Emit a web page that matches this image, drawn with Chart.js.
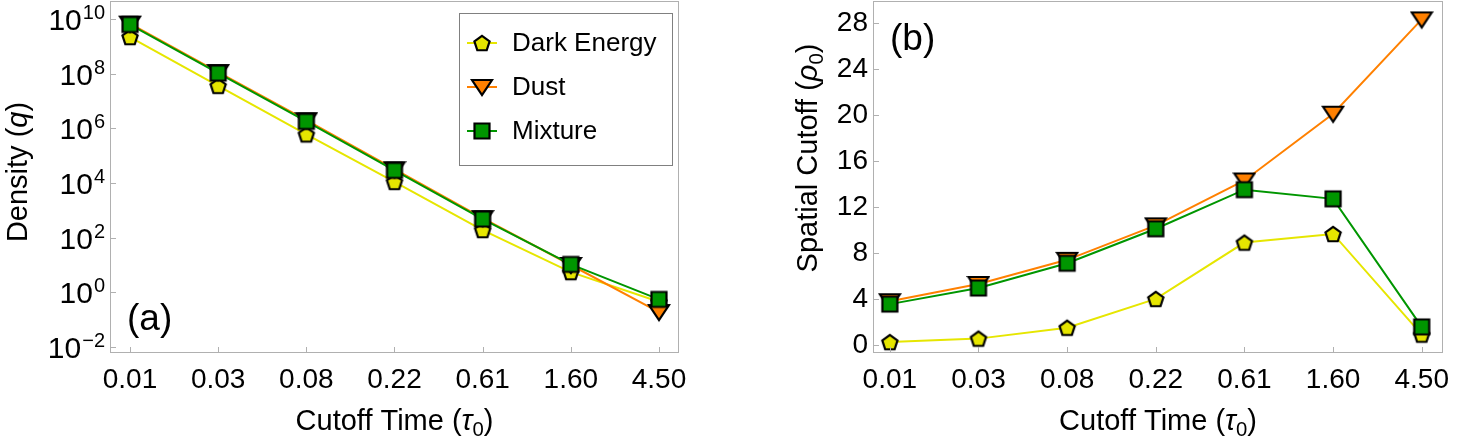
<!DOCTYPE html>
<html lang="en">
<head>
<meta charset="UTF-8">
<title>Density and Spatial Cutoff vs Cutoff Time</title>
<script src="https://cdn.jsdelivr.net/npm/chart.js@4.4.1/dist/chart.umd.min.js"></script>
<style>
body { margin: 0; background: #fff; }
.panel { position: absolute; top: 0; height: 446px; }
#left { left: 0; width: 720px; }
#right { left: 720px; width: 739px; }
</style>
</head>
<body>
<div class="panel" id="left"><canvas id="densityChart"></canvas></div>
<div class="panel" id="right"><canvas id="cutoffChart"></canvas></div>
<script>
// cutoff times (tau_0), evenly spaced on the plot
const times = ['0.01', '0.03', '0.08', '0.22', '0.61', '1.60', '4.50'];
const seriesNames = ['Dark Energy', 'Dust', 'Mixture'];

// panel (a): density q, log scale
const densityDarkEnergy = [2.2e9, 3.6e7, 6.0e5, 1.1e4, 1.9e2, 5.5, 0.45];
const densityDust       = [6.8e9, 1.15e8, 2.0e6, 3.2e4, 5.2e2, 10, 0.19];
const densityMixture    = [6.3e9, 1.05e8, 1.8e6, 2.9e4, 4.8e2, 10.5, 0.55];
const densityExponents  = [-2, 0, 2, 4, 6, 8, 10];

// panel (b): spatial cutoff rho_0
const spatialDarkEnergy = [0.25, 0.55, 1.5, 4.0, 8.9, 9.65, 0.9];
const spatialDust       = [3.8, 5.3, 7.4, 10.4, 14.3, 20.1, 28.3];
const spatialMixture    = [3.55, 4.95, 7.1, 10.1, 13.5, 12.7, 1.57];
const spatialTicks      = [0, 4, 8, 12, 16, 20, 24, 28];

const FONT = "'Liberation Sans', Arial, sans-serif";
const YELLOW = '#e6e600', ORANGE = '#ff8000', GREEN = '#009600';

function marker(kind, fill) {
    const c = document.createElement('canvas');
    c.width = 24; c.height = 24;
    const g = c.getContext('2d');
    g.fillStyle = fill;
    g.strokeStyle = '#000';
    g.lineWidth = 2.2;
    g.beginPath();
    if (kind === 'pentagon') {
        for (let i = 0; i < 5; i++) {
            const a = -Math.PI / 2 + i * 2 * Math.PI / 5;
            const px = 12 + 8 * Math.cos(a), py = 12.8 + 8 * Math.sin(a);
            if (i) g.lineTo(px, py); else g.moveTo(px, py);
        }
    } else if (kind === 'triangle') {
        g.moveTo(2, 5); g.lineTo(22, 5); g.lineTo(12, 20);
    } else {
        g.rect(4.5, 4.5, 15, 15);
    }
    g.closePath();
    g.fill();
    g.stroke();
    return c;
}

const markers = [marker('pentagon', YELLOW), marker('triangle', ORANGE), marker('square', GREEN)];
const lineColors = [YELLOW, ORANGE, GREEN];

function makeDatasets(seriesList) {
    return seriesList.map((vals, k) => ({
        label: seriesNames[k],
        data: vals.map((v, i) => ({ x: i, y: v })),
        borderColor: lineColors[k],
        borderWidth: 2,
        pointStyle: markers[k],
        pointRadius: 8,
        order: 3 - k
    }));
}

// text made of pieces: {t, italic, sub}
function richWidth(ctx, parts, size) {
    let w = 0;
    parts.forEach(p => {
        ctx.font = (p.italic ? 'italic ' : '') + (p.sub ? size * 0.7 : size) + 'px ' + FONT;
        w += ctx.measureText(p.t).width;
    });
    return w;
}
function drawRich(ctx, parts, x, y, size) {
    let cx = x - richWidth(ctx, parts, size) / 2;
    ctx.textAlign = 'left';
    ctx.textBaseline = 'alphabetic';
    ctx.fillStyle = '#000';
    parts.forEach(p => {
        ctx.font = (p.italic ? 'italic ' : '') + (p.sub ? size * 0.7 : size) + 'px ' + FONT;
        ctx.fillText(p.t, cx, y + (p.sub ? size * 0.22 : 0));
        cx += ctx.measureText(p.t).width;
    });
}

function frameAndTicks(chart) {
    const ctx = chart.ctx, a = chart.chartArea;
    const xs = chart.scales.x, ys = chart.scales.y;
    ctx.save();
    ctx.strokeStyle = '#b0b0b0';
    ctx.lineWidth = 1;
    ctx.strokeRect(a.left + 0.5, a.top + 0.5, a.right - a.left - 1, a.bottom - a.top - 1);
    ctx.beginPath();
    xs.ticks.forEach(t => {
        const px = Math.round(xs.getPixelForValue(t.value)) + 0.5;
        ctx.moveTo(px, a.bottom); ctx.lineTo(px, a.bottom - 6);
    });
    ys.ticks.forEach(t => {
        const py = Math.round(ys.getPixelForValue(t.value)) + 0.5;
        ctx.moveTo(a.left, py); ctx.lineTo(a.left + 6, py);
    });
    ctx.stroke();
    ctx.restore();
}

const xTitle = [{ t: 'Cutoff Time (' }, { t: '\u03C4', italic: true }, { t: '0', sub: true }, { t: ')' }];

const densityDecor = {
    id: 'densityDecor',
    afterDraw(chart) {
        const ctx = chart.ctx, a = chart.chartArea, ys = chart.scales.y;
        frameAndTicks(chart);
        ctx.save();
        // log tick labels 10^n
        densityExponents.forEach(e => {
            const py = ys.getPixelForValue(Math.pow(10, e));
            const ex = e < 0 ? '\u2212' + (-e) : String(e);
            ctx.textAlign = 'right';
            ctx.textBaseline = 'alphabetic';
            ctx.fillStyle = '#000';
            ctx.font = '20px ' + FONT;
            const ew = ctx.measureText(ex).width;
            ctx.fillText(ex, 105, py);
            ctx.font = '30px ' + FONT;
            ctx.fillText('10', 104 - ew, py + 11);
        });
        drawRich(ctx, xTitle, (a.left + a.right) / 2, 430, 29);
        ctx.translate(27, 172);
        ctx.rotate(-Math.PI / 2);
        drawRich(ctx, [{ t: 'Density (' }, { t: 'q', italic: true }, { t: ')' }], 0, 0, 29);
        ctx.restore();
        ctx.save();
        ctx.font = '37px ' + FONT;
        ctx.fillStyle = '#000';
        ctx.textAlign = 'left';
        ctx.textBaseline = 'middle';
        ctx.fillText('(a)', 127, 320);
        ctx.restore();
    },
    afterDatasetsDraw(chart) {
        // legend box
        const ctx = chart.ctx;
        ctx.save();
        ctx.fillStyle = '#fff';
        ctx.fillRect(459, 13, 213, 152);
        ctx.strokeStyle = '#808080';
        ctx.lineWidth = 1;
        ctx.strokeRect(459.5, 13.5, 213, 152);
        chart.data.datasets.forEach((ds, k) => {
            const cy = 43 + k * 44;
            ctx.strokeStyle = ds.borderColor;
            ctx.lineWidth = 2;
            ctx.beginPath();
            ctx.moveTo(467, cy); ctx.lineTo(497, cy);
            ctx.stroke();
            ctx.drawImage(ds.pointStyle, 482 - 12, cy - 12);
            ctx.fillStyle = '#000';
            ctx.font = '26px ' + FONT;
            ctx.textAlign = 'left';
            ctx.textBaseline = 'middle';
            ctx.fillText(ds.label, 512, cy + 1);
        });
        ctx.restore();
    }
};

const cutoffDecor = {
    id: 'cutoffDecor',
    afterDraw(chart) {
        const ctx = chart.ctx, a = chart.chartArea;
        frameAndTicks(chart);
        ctx.save();
        drawRich(ctx, xTitle, (a.left + a.right) / 2, 430, 29);
        ctx.translate(97, 158);
        ctx.rotate(-Math.PI / 2);
        drawRich(ctx, [{ t: 'Spatial Cutoff (' }, { t: '\u03C1', italic: true }, { t: '0', sub: true }, { t: ')' }], 0, 0, 29);
        ctx.restore();
        ctx.save();
        ctx.font = '37px ' + FONT;
        ctx.fillStyle = '#000';
        ctx.textAlign = 'left';
        ctx.textBaseline = 'middle';
        ctx.fillText('(b)', 170, 40);
        ctx.restore();
    }
};

function noPad(s) {
    s.paddingTop = 0; s.paddingBottom = 0; s.paddingLeft = 0; s.paddingRight = 0;
}

function xScale(min, max) {
    return {
        type: 'linear', min: min, max: max,
        afterBuildTicks: s => { s.ticks = times.map((_, i) => ({ value: i })); },
        afterFit: s => { s.height = 93; noPad(s); },
        grid: { display: false, drawTicks: false },
        border: { display: false },
        ticks: {
            callback: v => times[v],
            font: { family: FONT, size: 28 },
            color: '#000',
            padding: 10,
            maxRotation: 0,
            autoSkip: false
        }
    };
}

Chart.defaults.font.family = FONT;

new Chart(document.getElementById('densityChart'), {
    type: 'line',
    data: { datasets: makeDatasets([densityDarkEnergy, densityDust, densityMixture]) },
    options: {
        responsive: true,
        maintainAspectRatio: false,
        animation: false,
        devicePixelRatio: 1,
        layout: { autoPadding: false, padding: { top: 1, right: 41, bottom: 0, left: 0 } },
        scales: {
            x: xScale(-0.227, 6.227),
            y: {
                type: 'logarithmic',
                min: Math.pow(10, -2.22),
                max: Math.pow(10, 10.66),
                afterBuildTicks: s => { s.ticks = densityExponents.map(e => ({ value: Math.pow(10, e) })); },
                afterFit: s => { s.width = 110; noPad(s); },
                grid: { display: false, drawTicks: false },
                border: { display: false },
                ticks: { display: false }
            }
        },
        plugins: { legend: { display: false }, tooltip: { enabled: false } }
    },
    plugins: [densityDecor]
});

new Chart(document.getElementById('cutoffChart'), {
    type: 'line',
    data: { datasets: makeDatasets([spatialDarkEnergy, spatialDust, spatialMixture]) },
    options: {
        responsive: true,
        maintainAspectRatio: false,
        animation: false,
        devicePixelRatio: 1,
        layout: { autoPadding: false, padding: { top: 1, right: 16, bottom: 0, left: 0 } },
        scales: {
            x: xScale(-0.19, 6.24),
            y: {
                type: 'linear',
                min: -0.7,
                max: 29.9,
                afterBuildTicks: s => { s.ticks = spatialTicks.map(v => ({ value: v })); },
                afterFit: s => { s.width = 153; noPad(s); },
                grid: { display: false, drawTicks: false },
                border: { display: false },
                ticks: {
                    font: { family: FONT, size: 28 },
                    color: '#000',
                    padding: 5
                }
            }
        },
        plugins: { legend: { display: false }, tooltip: { enabled: false } }
    },
    plugins: [cutoffDecor]
});
</script>
</body>
</html>
